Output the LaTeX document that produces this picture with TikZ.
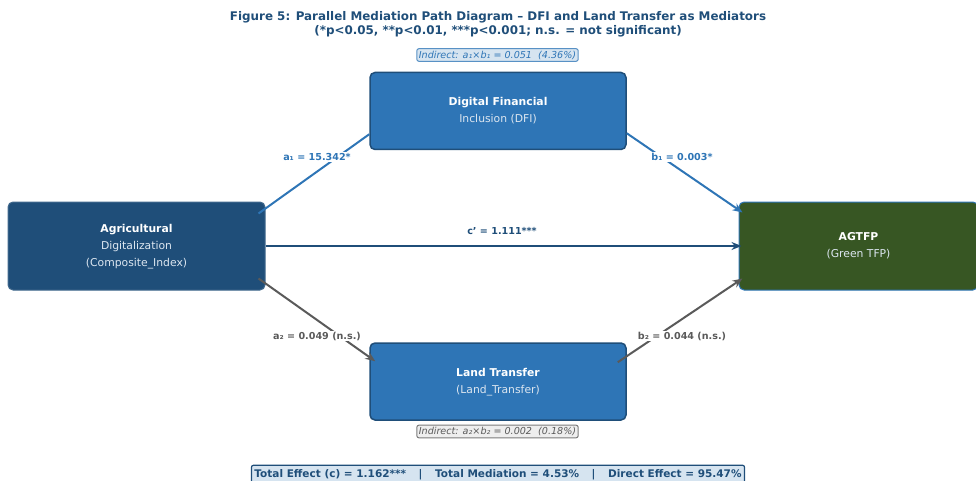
\documentclass[tikz,border=0pt]{standalone}
\usepackage{fontspec}
\setmainfont{DejaVu Sans}
\usetikzlibrary{arrows.meta,calc}

\definecolor{navy}{HTML}{1F4E79}
\definecolor{midblue}{HTML}{2E75B6}
\definecolor{forest}{HTML}{375623}
\definecolor{slate}{HTML}{5A5A5A}
\definecolor{subtext}{HTML}{DCE6F0}
\definecolor{paleblue}{HTML}{D6E4F0}
\definecolor{palegray}{HTML}{EEEEEE}

\tikzset{
  varbox/.style={rectangle, rounded corners=5pt, align=center, text=white,
    font=\fontsize{10.8}{17}\selectfont, line width=1.5pt,
    minimum width=256pt, minimum height=77pt, inner sep=0pt},
  arrowline/.style={line width=2pt, -{Stealth[length=10pt,width=8pt]}},
  plainline/.style={line width=2pt},
  coef/.style={font=\fontsize{9.6}{11}\bfseries\selectfont, fill=white,
    inner sep=1pt},
  note/.style={rectangle, rounded corners=2pt, line width=1pt,
    font=\fontsize{9.6}{11}\itshape\selectfont, inner xsep=2pt, inner ysep=2pt},
}

\newcommand{\subline}[1]{{\color{subtext}#1}}
\newcommand{\lowered}[1]{\raisebox{-1.5pt}{\begin{tabular}{@{}c@{}}#1\end{tabular}}}

\begin{document}
\begin{tikzpicture}[x=1pt,y=-1pt]
\useasboundingbox (0,0) rectangle (976,481);

% heading
\node[text=navy, align=center, font=\fontsize{11.9}{14}\bfseries\selectfont]
  (title) at (498,24) {Figure 5: Parallel Mediation Path Diagram -- DFI and Land Transfer as Mediators\\
  (*p<0.05, **p<0.01, ***p<0.001; n.s. = not significant)};

% variables
\node[varbox, fill=midblue, draw=navy] (dfi) at (498,111)
  {\textbf{Digital Financial}\\\subline{Inclusion (DFI)}};
\node[varbox, fill=navy, draw=navy!85!white, line width=1pt,
  minimum width=257pt, minimum height=88pt] (agri) at (136.5,246)
  {\lowered{\textbf{Agricultural}\\\subline{Digitalization}\\\subline{(Composite\_Index)}}};
\node[varbox, fill=forest, draw=midblue, line width=1pt,
  minimum width=239pt, minimum height=88pt] (agtfp) at (858.5,246)
  {\lowered{\textbf{AGTFP}\\\subline{(Green TFP)}}};
\node[varbox, fill=midblue, draw=navy] (land) at (498,381.5)
  {\lowered{\textbf{Land Transfer}\\\subline{(Land\_Transfer)}}};

% paths
\draw[plainline, midblue] ($(agri.north east)+(-7,12)$) -- ($(dfi.south west)+(0,-16)$);
\draw[arrowline, midblue] ($(dfi.south east)+(0,-17)$) -- ($(agtfp.north west)+(4,11)$);
\draw[arrowline, navy] (agri.east) -- ($(agtfp.west)+(3,0)$);
\draw[arrowline, slate] ($(agri.south east)+(-7,-12)$) -- ($(land.north west)+(6,19)$);
\draw[arrowline, slate] ($(land.north east)+(-9,20)$) -- ($(agtfp.south west)+(4,-12)$);

% coefficients
\node[coef, text=midblue] (la1) at (317,157) {a₁ = 15.342*};
\node[coef, text=midblue] (lb1) at (682,157) {b₁ = 0.003*};
\node[coef, text=navy, fill=none] (lc) at (502,231) {c' = 1.111***};
\node[coef, text=slate] (la2) at (317,336) {a₂ = 0.049 (n.s.)};
\node[coef, text=slate] (lb2) at (682,336) {b₂ = 0.044 (n.s.)};

% indirect effects
\node[note, fill=paleblue, draw=midblue!80!white, text=midblue] (ind1) at (497.5,55)
  {Indirect: a₁×b₁ = 0.051\ \ (4.36\%)};
\node[note, fill=palegray, draw=slate!80!white, text=slate] (ind2) at (497.5,431.5)
  {Indirect: a₂×b₂ = 0.002\ \ (0.18\%)};

% summary
\node[rectangle, rounded corners=2pt, line width=1.2pt, fill=paleblue, draw=navy,
  text=navy, font=\fontsize{10.5}{12}\bfseries\selectfont, inner xsep=3pt, inner ysep=4pt]
  (summary) at (498,474.5)
  {Total Effect (c) = 1.162***\hspace{1.2em}|\hspace{1.2em}Total Mediation = 4.53\%\hspace{1.2em}|\hspace{1.2em}Direct Effect = 95.47\%};
\end{tikzpicture}
\end{document}
